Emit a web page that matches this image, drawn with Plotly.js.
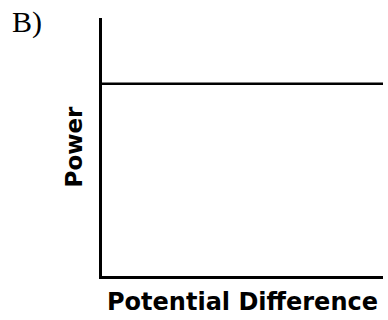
<!DOCTYPE html>
<html>
<head>
<meta charset="utf-8">
<script src="https://cdn.plot.ly/plotly-3.0.1.min.js"></script>
<style>html,body{margin:0;padding:0;background:#fff;}#chart{width:388px;height:320px;}</style>
</head>
<body>
<div id="chart"></div>
<script>
// Data
const potentialDifference = [0, 1];
const power = [0.745, 0.745];
const xTitle = "Potential Difference";
const yTitle = "Power";
const panelLabel = "B)";

const trace = {
  x: potentialDifference,
  y: power,
  type: "scatter",
  mode: "lines",
  line: {color: "#000", width: 2.5},
  hoverinfo: "none",
  showlegend: false
};

const layout = {
  width: 388,
  height: 320,
  margin: {l: 102, r: 5, t: 18, b: 44},
  paper_bgcolor: "#fff",
  plot_bgcolor: "#fff",
  title: {
    text: panelLabel,
    font: {family: "Liberation Serif, Times New Roman, serif", size: 30, color: "#000"},
    x: 12/388, xanchor: "left", xref: "container",
    y: 1 - 11/320, yanchor: "top", yref: "container"
  },
  xaxis: {
    range: [0, 1],
    showline: true, linecolor: "#000", linewidth: 3,
    showgrid: false, zeroline: false, showticklabels: false, ticks: "",
    title: {text: xTitle, font: {family: "DejaVu Sans", size: 24, color: "#000", weight: "bold"}, standoff: 16}
  },
  yaxis: {
    range: [0, 1],
    showline: true, linecolor: "#000", linewidth: 3,
    showgrid: false, zeroline: false, showticklabels: false, ticks: "",
    title: {text: yTitle, font: {family: "DejaVu Sans", size: 23, color: "#000", weight: "bold"}, standoff: 10}
  }
};

Plotly.newPlot("chart", [trace], layout, {displayModeBar: false, staticPlot: true});
</script>
</body>
</html>
